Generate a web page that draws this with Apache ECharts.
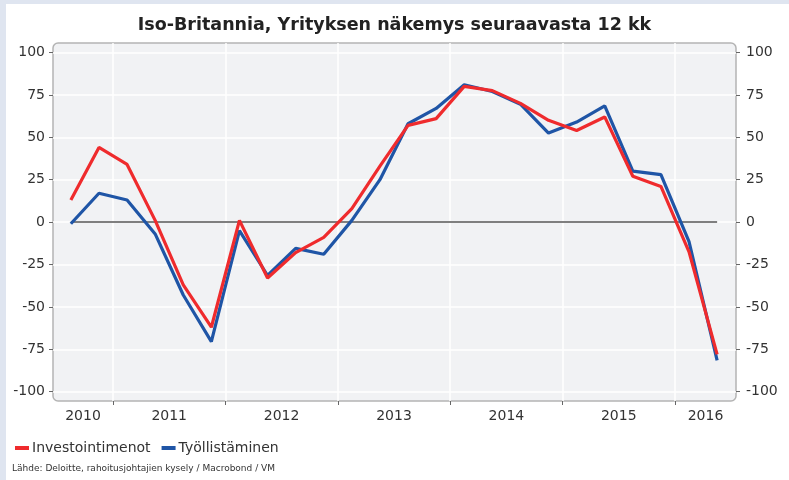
<!DOCTYPE html>
<html>
<head>
<meta charset="utf-8">
<script src="https://cdn.jsdelivr.net/npm/echarts@6/dist/echarts.min.js"></script>
<style>
	html, body { margin: 0; padding: 0; background: #dfe5f0; }
	#card { position: absolute; left: 6px; top: 4px; width: 783px; height: 476px; background: #fff; }
	#chart { position: absolute; left: 0; top: 0; width: 789px; height: 480px; }
</style>
</head>
<body>
<div id="card"></div>
<div id="chart"></div>
<script>
// neljännekset 2010Q3 - 2016Q2
const quarters = ['2010Q3','2010Q4','2011Q1','2011Q2','2011Q3','2011Q4','2012Q1','2012Q2',
	'2012Q3','2012Q4','2013Q1','2013Q2','2013Q3','2013Q4','2014Q1','2014Q2',
	'2014Q3','2014Q4','2015Q1','2015Q2','2015Q3','2015Q4','2016Q1','2016Q2'];
const investoinnit = [13, 44, 34, 1, -37, -62, 1, -33, -18, -9, 8, 33,
	57, 61, 80, 77.5, 70, 60, 54, 62, 27, 21, -17.5, -78];
const tyollistaminen = [-1, 17, 13, -7, -43, -70.5, -5, -31.5, -15.5, -19, 1, 25,
	58, 67, 81, 77, 69.5, 52.5, 59, 68.5, 30, 28, -11.5, -81.5];
const yearLabels = [2010, 2011, 2012, 2013, 2014, 2015, 2016];
const yTicks = [-100, -75, -50, -25, 0, 25, 50, 75, 100];

const xMin = 2010.466, xMax = 2016.543;
// neljänneksen keskikohta
const qPos = q => +q.slice(0, 4) + (+q.slice(5) - 0.5) / 4;
const toPoints = arr => arr.map((v, i) => [qPos(quarters[i]), v]);

const yearTicks = yearLabels.slice(1);
const yearLabelPos = yearLabels.map(y => {
	let a = Math.max(y, xMin), b = Math.min(y + 1, xMax);
	return (a + b) / 2;
});

const font = 'DejaVu Sans, Verdana, sans-serif';
const myChart = echarts.init(document.getElementById('chart'));

myChart.setOption({
	animation: false,
	title: {
		text: 'Iso-Britannia, Yrityksen näkemys seuraavasta 12 kk',
		left: 'center',
		top: 11,
		textStyle: {fontFamily: font, fontSize: 17.5, fontWeight: 'bold', color: '#222'}
	},
	graphic: [{
		type: 'rect',
		z: -1,
		shape: {x: 53, y: 43, width: 683, height: 358, r: 5},
		style: {fill: '#f1f2f4', stroke: '#b4b4b4', lineWidth: 1.5}
	}, {
		type: 'text',
		left: 12,
		top: 464,
		style: {
			text: 'Lähde: Deloitte, rahoitusjohtajien kysely / Macrobond / VM',
			font: '9px ' + font,
			fill: '#333'
		}
	}],
	legend: {
		left: 10,
		top: 436,
		icon: 'rect',
		itemWidth: 14,
		itemHeight: 4,
		itemGap: 11,
		textStyle: {fontFamily: font, fontSize: 14, color: '#333', padding: [0, 0, 0, -2]},
		data: ['Investointimenot', 'Työllistäminen']
	},
	grid: {left: 53, right: 53, top: 43, bottom: 79},
	xAxis: {
		type: 'value',
		min: xMin,
		max: xMax,
		axisLine: {show: false, onZero: false},
		axisTick: {show: true, customValues: yearTicks, length: 4, lineStyle: {color: '#666'}},
		axisLabel: {
			customValues: yearLabelPos,
			formatter: v => String(Math.floor(v)),
			fontFamily: font, fontSize: 14, color: '#333', margin: 8
		},
		splitLine: {show: true, lineStyle: {color: '#ffffff', width: 1.5}}
	},
	yAxis: [{
		type: 'value',
		min: -105.5,
		max: 105.6,
		position: 'left',
		axisLine: {show: false},
		axisTick: {show: true, customValues: yTicks, length: 4, lineStyle: {color: '#666'}},
		axisLabel: {customValues: yTicks, fontFamily: font, fontSize: 14, color: '#333', margin: 8},
		splitLine: {show: true, lineStyle: {color: '#ffffff', width: 1.5}}
	}, {
		type: 'value',
		min: -105.5,
		max: 105.6,
		position: 'right',
		axisLine: {show: false},
		axisTick: {show: true, customValues: yTicks, length: 4, lineStyle: {color: '#666'}},
		axisLabel: {customValues: yTicks, fontFamily: font, fontSize: 14, color: '#333', margin: 10},
		splitLine: {show: false}
	}],
	series: [{
		name: 'nolla',
		type: 'line',
		silent: true,
		symbol: 'none',
		data: [[qPos(quarters[0]), 0], [qPos(quarters[quarters.length - 1]), 0]],
		lineStyle: {color: '#7f7f7f', width: 2},
		z: 1
	}, {
		name: 'Työllistäminen',
		type: 'line',
		symbol: 'none',
		data: toPoints(tyollistaminen),
		color: '#1f55a6',
		lineStyle: {width: 3.2},
		z: 2
	}, {
		name: 'Investointimenot',
		type: 'line',
		symbol: 'none',
		data: toPoints(investoinnit),
		color: '#ef2b2d',
		lineStyle: {width: 3.2},
		z: 3
	}]
});
</script>
</body>
</html>
